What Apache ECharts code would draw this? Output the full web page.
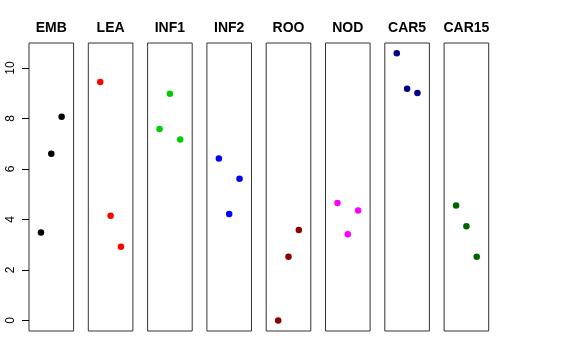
<!DOCTYPE html>
<html><head><meta charset="utf-8">
<script src="https://cdn.jsdelivr.net/npm/echarts@6/dist/echarts.min.js"></script>
<style>html,body{margin:0;padding:0;background:#fff}#c{width:576px;height:360px}</style>
</head><body><div id="c"></div>
<script>
var panels = ['EMB','LEA','INF1','INF2','ROO','NOD','CAR5','CAR15'];
var colors = ['#000000','#FF0000','#00CD00','#0000FF','#8B0000','#FF00FF','#00008B','#006400'];
var xPos = [1, 2, 3];
var EMB = [3.48, 6.60, 8.07];
var LEA = [9.44, 4.15, 2.92];
var INF1 = [7.58, 8.98, 7.17];
var INF2 = [6.41, 4.22, 5.61];
var ROO = [0.00, 2.52, 3.58];
var NOD = [4.65, 3.41, 4.35];
var CAR5 = [10.58, 9.18, 9.01];
var CAR15 = [4.55, 3.73, 2.52];
var yTicks = [0, 2, 4, 6, 8, 10];
var values = [EMB, LEA, INF1, INF2, ROO, NOD, CAR5, CAR15];

var font = '"Liberation Sans", Arial, Helvetica, sans-serif';
var left0 = 29, pitch = 59.3, pw = 44.6, plotTop = 43, ph = 288;
var yMin = -0.42, yMax = 10.99;
var grids = [], xAxes = [], yAxes = [], series = [], graphics = [];
panels.forEach(function (name, i) {
  var l = left0 + i * pitch;
  grids.push({left: l, top: plotTop, width: pw, height: ph, show: true, borderColor: '#333', borderWidth: 1});
  xAxes.push({gridIndex: i, type: 'value', min: -0.16, max: 4.16, show: false});
  yAxes.push({gridIndex: i, type: 'value', min: yMin, max: yMax, show: false});
  series.push({
    type: 'scatter', xAxisIndex: i, yAxisIndex: i, symbol: 'circle', symbolSize: 6.5,
    itemStyle: {color: colors[i], opacity: 1},
    data: values[i].map(function (v, k) { return [xPos[k], v]; })
  });
  graphics.push({type: 'text', x: l + pw / 2, y: 21, style: {text: name, textAlign: 'center', textVerticalAlign: 'top', font: 'bold 14px ' + font, fill: '#000'}});
});
// axis-only grid: same pixel scale as the panels, spanning the tick range exactly
var t0 = yTicks[0], t1 = yTicks[yTicks.length - 1];
var pxPerUnit = ph / (yMax - yMin);
grids.push({left: left0, width: pw, top: plotTop + (yMax - t1) * pxPerUnit, height: (t1 - t0) * pxPerUnit, show: false});
xAxes.push({gridIndex: 8, type: 'value', min: 0, max: 1, show: false});
yAxes.push({
  gridIndex: 8, type: 'value', min: t0, max: t1, interval: yTicks[1] - yTicks[0],
  splitLine: {show: false}, axisLine: {show: false},
  axisTick: {show: true, inside: false, length: 7, lineStyle: {color: '#000'}},
  axisLabel: {show: true, rotate: 90, margin: 12, fontSize: 12, color: '#000', fontFamily: font}
});
var chart = echarts.init(document.getElementById('c'), null, {renderer: 'canvas'});
chart.setOption({
  animation: false,
  backgroundColor: '#fff',
  grid: grids, xAxis: xAxes, yAxis: yAxes, series: series, graphic: graphics
});
</script></body></html>
